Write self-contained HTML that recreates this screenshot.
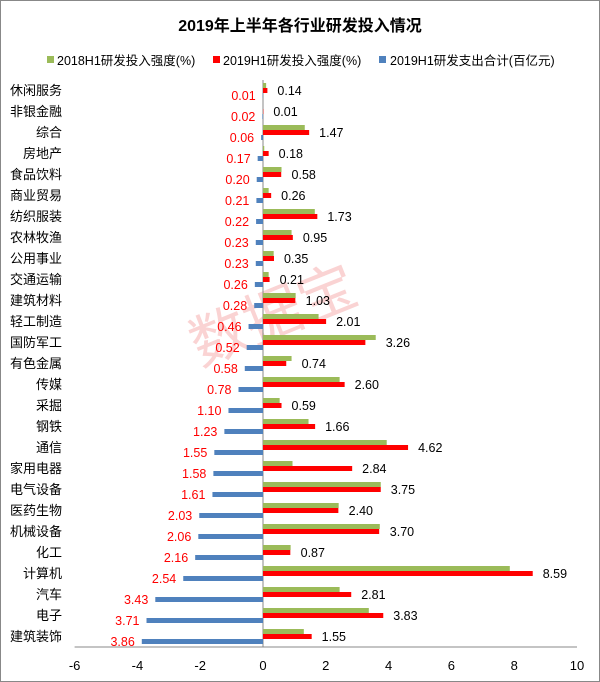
<!DOCTYPE html>
<html><head><meta charset="utf-8"><style>
body{margin:0;background:#fff}
svg{display:block;font-family:"Liberation Sans","Noto Sans CJK SC",sans-serif}
</style></head><body>
<svg id="c" width="600" height="682">
<rect x="0.5" y="0.5" width="599" height="681" fill="#fff" stroke="#888"/>
<text x="300" y="31" text-anchor="middle" font-size="16" font-weight="bold">2019年上半年各行业研发投入情况</text>
<g font-size="12.5">
<rect x="47" y="56" width="7" height="7" fill="#9bbb59"/>
<text x="57" y="65">2018H1研发投入强度(%)</text>
<rect x="213" y="56" width="7" height="7" fill="#ff0000"/>
<text x="223" y="65">2019H1研发投入强度(%)</text>
<rect x="379" y="56" width="7" height="7" fill="#4f81bd"/>
<text x="390" y="65">2019H1研发支出合计(百亿元)</text>
</g>
<text x="275" y="335" font-size="58" fill="#f4a0a0" opacity="0.45" transform="rotate(-22 275 320)" text-anchor="middle">数据宝</text>
<g id="plot"></g>
</svg>
<script>
const categories=["休闲服务","非银金融","综合","房地产","食品饮料","商业贸易","纺织服装","农林牧渔","公用事业","交通运输","建筑材料","轻工制造","国防军工","有色金属","传媒","采掘","钢铁","通信","家用电器","电气设备","医药生物","机械设备","化工","计算机","汽车","电子","建筑装饰"];
const intensity2018=[0.1,0,1.33,0.04,0.59,0.18,1.65,0.91,0.34,0.18,1.04,1.77,3.59,0.91,2.44,0.53,1.45,3.94,0.94,3.75,2.41,3.72,0.88,7.86,2.44,3.37,1.30];
const intensity2019=[0.14,0.01,1.47,0.18,0.58,0.26,1.73,0.95,0.35,0.21,1.03,2.01,3.26,0.74,2.60,0.59,1.66,4.62,2.84,3.75,2.40,3.70,0.87,8.59,2.81,3.83,1.55];
const spending=[0.01,0.02,0.06,0.17,0.20,0.21,0.22,0.23,0.23,0.26,0.28,0.46,0.52,0.58,0.78,1.10,1.23,1.55,1.58,1.61,2.03,2.06,2.16,2.54,3.43,3.71,3.86];
const xTicks=[-6,-4,-2,0,2,4,6,8,10];
const NS="http://www.w3.org/2000/svg";
const plotG=document.getElementById('plot');
const x0=263,unit=31.4,plotTop=80,plotBottom=647;
const band=(plotBottom-plotTop)/categories.length;
const X=v=>x0+v*unit;
const Y=i=>plotTop+i*band;
function mk(tag,attrs,txt){const e=document.createElementNS(NS,tag);for(const k in attrs)e.setAttribute(k,attrs[k]);if(txt!==undefined)e.textContent=txt;plotG.appendChild(e);return e;}
let ax=mk('line',{x1:x0,y1:plotTop,x2:x0,y2:plotBottom,stroke:'#888'});


let bx=mk('line',{x1:X(-6),y1:plotBottom,x2:X(10),y2:plotBottom,stroke:'#888'});


xTicks.forEach(t=>{
 const e=mk('text',{x:X(t),y:plotBottom+23,'text-anchor':'middle','font-size':13},String(t));
 
 
});
categories.forEach((c,i)=>{
 const y=Y(i);
 const l=mk('text',{x:62,y:y+15,'text-anchor':'end','font-size':13},c);
 
 
 const a=intensity2018[i],b=intensity2019[i],s=spending[i];
 const r1=mk('rect',{x:X(Math.min(0,a)),y:y+3,width:Math.abs(a)*unit,height:5,fill:'#9bbb59'});
 
 
 const r2=mk('rect',{x:X(Math.min(0,b)),y:y+8,width:Math.abs(b)*unit,height:5,fill:'#ff0000'});
 
 
 const r3=mk('rect',{x:X(-s),y:y+13,width:s*unit,height:5,fill:'#4f81bd'});
 
 
 const t2=mk('text',{x:X(Math.max(a,b))+10,y:y+15,'font-size':12.5},b.toFixed(2));
 
 
 const t3=mk('text',{x:X(-s)-7,y:y+20,'text-anchor':'end','font-size':12.5,fill:'#ff0000'},s.toFixed(2));
 
 
});
</script>
</body></html>
